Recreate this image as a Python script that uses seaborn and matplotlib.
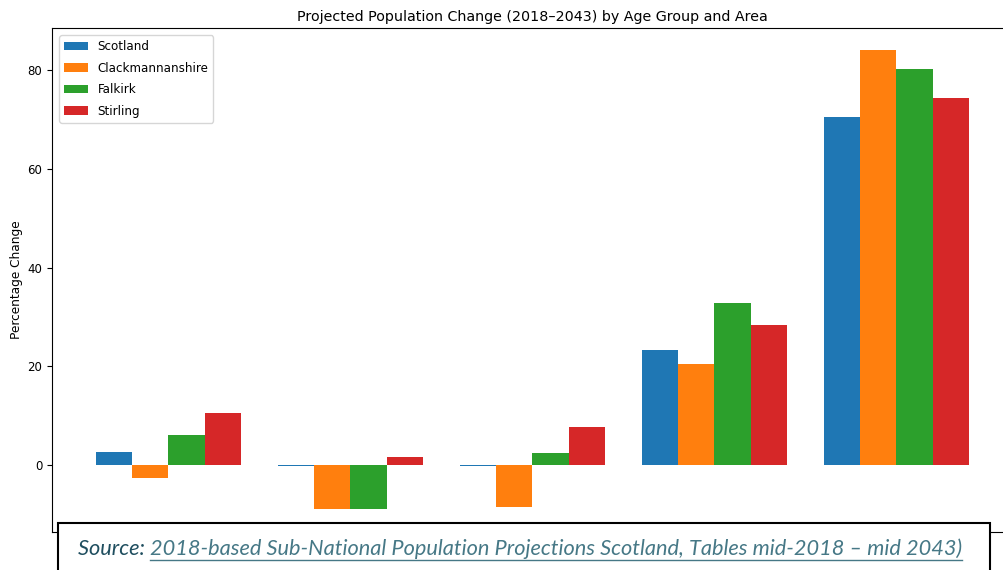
import pandas as pd
import seaborn as sns
import matplotlib.pyplot as plt
from matplotlib.patches import Rectangle
from matplotlib.lines import Line2D

# Values (percentage change 2018-2043)
# (the x tick labels are hidden behind the source box in the reference)
age_groups = ["0-15", "16-24", "25-64", "65-74", "75+"]
areas = ["Scotland", "Clackmannanshire", "Falkirk", "Stirling"]
scotland = [2.5, -0.2, -0.2, 23.3, 70.6]
clackmannanshire = [-2.7, -8.9, -8.6, 20.5, 84.1]
falkirk = [6.1, -8.9, 2.4, 32.9, 80.3]
stirling = [10.5, 1.5, 7.7, 28.4, 74.3]

source_label = "Source: "
source_link = ("2018-based Sub-National Population Projections Scotland, "
               "Tables mid-2018 \u2013 mid 2043)")

rows = []
for area, vals in zip(areas, [scotland, clackmannanshire, falkirk, stirling]):
    for grp, v in zip(age_groups, vals):
        rows.append({"Age Group": grp, "Area": area, "Change": v})
df = pd.DataFrame(rows)

W, H = 1004, 570
fig = plt.figure(figsize=(W / 100, H / 100), dpi=100)
ax = fig.add_axes([0.0518, 0.0672, 0.957, 0.8837])

colors = ["#1f77b4", "#ff7f0e", "#2ca02c", "#d62728"]
sns.barplot(data=df, x="Age Group", y="Change", hue="Area", order=age_groups,
            hue_order=areas, palette=colors, saturation=1, width=0.8,
            errorbar=None, ax=ax)

ax.set_xlim(-0.64, 4.64)
ax.set_ylim(-13.6, 88.6)
ax.set_title("Projected Population Change (2018\u20132043) by Age Group and Area",
             fontsize=10.3, pad=5)
ax.set_ylabel("Percentage Change", fontsize=8.7, labelpad=3)
ax.set_xlabel("")
ax.set_xticks(range(len(age_groups)))
ax.set_xticklabels([""] * len(age_groups))
ax.tick_params(labelsize=8.5)
ax.legend(loc="upper left", fontsize=8.6, labelspacing=0.72,
          borderaxespad=0.6)

# source box covering the bottom of the chart
box = Rectangle((58 / W, -0.02), (990 - 58) / W, (570 - 523) / H + 0.02,
                transform=fig.transFigure, facecolor="white", edgecolor="black",
                linewidth=1.5, zorder=10)
fig.patches.append(box)

text_y = (H - 549) / H
fs = 14
t1 = fig.text(78 / W, text_y, source_label, fontsize=fs, style="italic",
              family="Lato", color="#1f4e5f", va="center", zorder=11)
t2 = fig.text(0, text_y, source_link, fontsize=fs, style="italic",
              family="Lato", color="#467886", va="center", zorder=11)
fig.canvas.draw()
# scale the font so the line spans the same width as in the reference
total = t1.get_window_extent().width + t2.get_window_extent().width
fs = fs * (967 - 78) / total
t1.set_fontsize(fs)
t2.set_fontsize(fs)
fig.canvas.draw()
t2.set_x(t1.get_window_extent().x1 / W)
fig.canvas.draw()
bb2 = t2.get_window_extent()
fig.lines.append(Line2D([bb2.x0 / W, bb2.x1 / W],
                        [(H - 560) / H, (H - 560) / H],
                        transform=fig.transFigure, color="#467886",
                        linewidth=1, zorder=11))

plt.savefig("out.png", dpi=100)
